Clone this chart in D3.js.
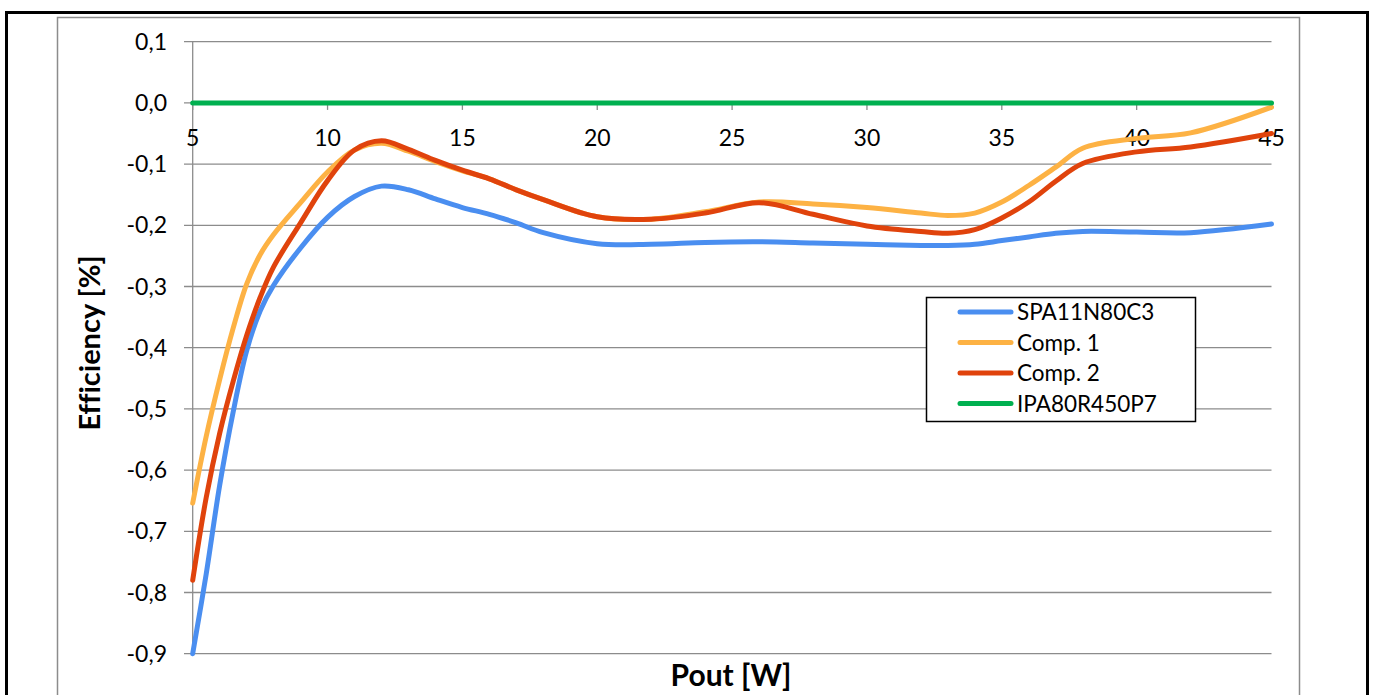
<!DOCTYPE html>
<html>
<head>
<meta charset="utf-8">
<script src="https://cdn.jsdelivr.net/npm/d3@7"></script>
<style>
  html, body { margin: 0; padding: 0; background: #fff; }
  svg { display: block; }
  text { font-family: Lato, "Open Sans", sans-serif; fill: #000; font-variant-ligatures: none; }
</style>
</head>
<body>
<svg id="chart" width="1375" height="695"></svg>
<script>
// ---- data ----
const pout = [5,5.5,6,6.5,7,7.5,8,9,10,11,12,13,14,15,16,17,18,20,22,24,26,28,30,32,33,34,35,36,37,38,40,42,45];
const spa11n80c3 = [-0.900,-0.770,-0.625,-0.505,-0.405,-0.340,-0.298,-0.237,-0.187,-0.153,-0.136,-0.142,-0.157,-0.171,-0.182,-0.196,-0.212,-0.230,-0.231,-0.228,-0.227,-0.229,-0.231,-0.233,-0.233,-0.231,-0.225,-0.219,-0.213,-0.210,-0.211,-0.212,-0.198];
const comp1 = [-0.654,-0.545,-0.452,-0.368,-0.296,-0.248,-0.215,-0.163,-0.113,-0.077,-0.066,-0.079,-0.096,-0.111,-0.124,-0.142,-0.158,-0.186,-0.190,-0.178,-0.162,-0.165,-0.171,-0.180,-0.184,-0.180,-0.162,-0.135,-0.105,-0.074,-0.058,-0.049,-0.007];
const comp2 = [-0.780,-0.645,-0.540,-0.455,-0.380,-0.318,-0.268,-0.196,-0.127,-0.077,-0.062,-0.076,-0.094,-0.110,-0.124,-0.142,-0.158,-0.186,-0.190,-0.180,-0.163,-0.182,-0.201,-0.210,-0.213,-0.207,-0.188,-0.162,-0.128,-0.099,-0.080,-0.072,-0.050];
const ipa80r450p7 = [0,0,0,0,0,0,0,0,0,0,0,0,0,0,0,0,0,0,0,0,0,0,0,0,0,0,0,0,0,0,0,0,0];
const seriesNames = ["SPA11N80C3","Comp. 1","Comp. 2","IPA80R450P7"];
const seriesColors = ["#4a8ef0","#fdb244","#e0430c","#00b050"];
const xTicks = [5,10,15,20,25,30,35,40,45];
const yTicks = [0.1,0,-0.1,-0.2,-0.3,-0.4,-0.5,-0.6,-0.7,-0.8,-0.9];
const xTitle = "Pout [W]";
const yTitle = "Efficiency [%]";

// ---- layout ----
const svg = d3.select("#chart");
const x = d3.scaleLinear().domain([5,45]).range([192.7,1271.5]);
const y = d3.scaleLinear().domain([0.1,-0.9]).range([41.7,653.7]);
const fmt = v => d3.format(".1f")(v).replace(".", ",").replace("−","-");

// outer frame
svg.append("rect").attr("x",6.5).attr("y",12.5).attr("width",1361).attr("height",720)
  .attr("fill","#fff").attr("stroke","#000").attr("stroke-width",3);
// chart area border
svg.append("rect").attr("x",57.5).attr("y",17.5).attr("width",1242).attr("height",720)
  .attr("fill","none").attr("stroke","#8c8c8c").attr("stroke-width",1.5);

// gridlines
svg.append("g").selectAll("line").data(yTicks).join("line")
  .attr("x1",184).attr("x2",x(45))
  .attr("y1",d=>y(d)).attr("y2",d=>y(d))
  .attr("stroke","#8c8c8c").attr("stroke-width",1.3);

// y axis line
svg.append("line").attr("x1",x(5)).attr("x2",x(5)).attr("y1",y(0.1)).attr("y2",y(-0.9))
  .attr("stroke","#8c8c8c").attr("stroke-width",1.3);

// y tick labels
svg.append("g").selectAll("text").data(yTicks).join("text")
  .attr("x",167).attr("y",d=>y(d)+8)
  .attr("text-anchor","end").attr("font-size",23)
  .text(d=>fmt(d));

// x axis ticks at y=0
svg.append("g").selectAll("line").data(xTicks).join("line")
  .attr("x1",d=>x(d)).attr("x2",d=>x(d))
  .attr("y1",y(0)).attr("y2",y(0)+7)
  .attr("stroke","#8c8c8c").attr("stroke-width",1.3);
svg.append("g").selectAll("text").data(xTicks).join("text")
  .attr("x",d=>x(d)).attr("y",145.5)
  .attr("text-anchor","middle").attr("font-size",23)
  .text(d=>d);

// series
const allSeries = [spa11n80c3, comp1, comp2, ipa80r450p7];
const line = d3.line().x(d=>x(d[0])).y(d=>y(d[1])).curve(d3.curveCatmullRom.alpha(0.5));
allSeries.forEach((s,i) => {
  const pts = pout.map((p,j)=>[p, s[j]]);
  svg.append("path").datum(pts)
    .attr("d",line)
    .attr("fill","none")
    .attr("stroke",seriesColors[i])
    .attr("stroke-width",5)
    .attr("stroke-linecap","round")
    .attr("stroke-linejoin","round");
});

// axis titles
svg.append("text").attr("x",731).attr("y",686)
  .attr("text-anchor","middle").attr("font-size",30).attr("font-weight","bold")
  .text(xTitle);
svg.append("text")
  .attr("transform","translate(100,343) rotate(-90)")
  .attr("text-anchor","middle").attr("font-size",29).attr("font-weight","bold")
  .text(yTitle);

// legend
const lg = svg.append("g");
lg.append("rect").attr("x",926.5).attr("y",297.5).attr("width",269).attr("height",124)
  .attr("fill","#fff").attr("stroke","#000").attr("stroke-width",1.5);
const rowY = [312,342.5,373,403.5];
seriesNames.forEach((n,i) => {
  lg.append("line").attr("x1",960).attr("x2",1011).attr("y1",rowY[i]).attr("y2",rowY[i])
    .attr("stroke",seriesColors[i]).attr("stroke-width",5).attr("stroke-linecap","round");
  lg.append("text").attr("x",1017).attr("y",rowY[i]+8).attr("font-size",22.5).text(n);
});
</script>
</body>
</html>
